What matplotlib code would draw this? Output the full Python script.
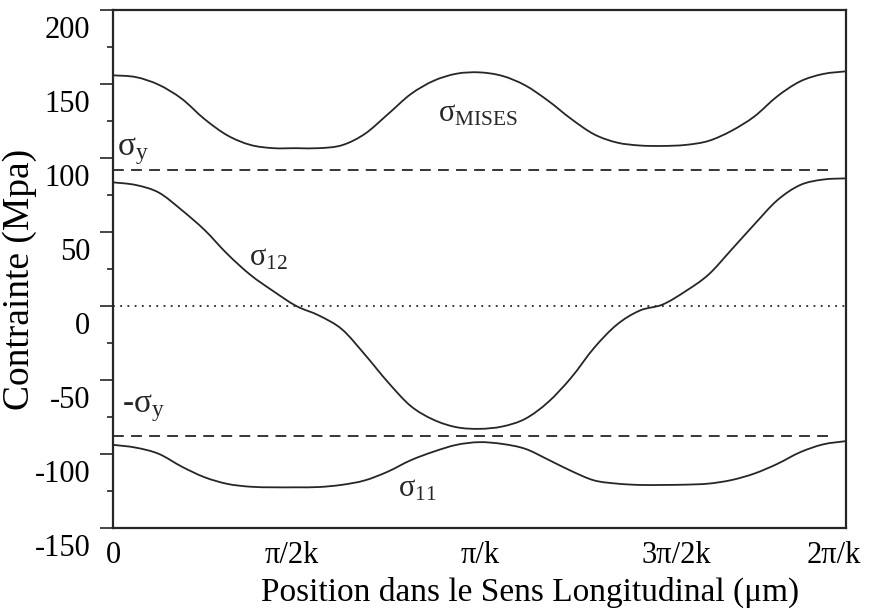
import numpy as np
import matplotlib
matplotlib.use('Agg')
import matplotlib.pyplot as plt
from matplotlib.path import Path
from matplotlib.patches import PathPatch
from matplotlib.transforms import ScaledTranslation

plt.rcParams['font.family'] = ['Liberation Serif', 'DejaVu Serif']
plt.rcParams['mathtext.fontset'] = 'custom'
plt.rcParams['mathtext.rm'] = 'Liberation Serif'
plt.rcParams['mathtext.it'] = 'Liberation Serif'

# position along the period, in units of pi/k (0 .. 2), read every 1/16
x_pos = np.linspace(0, 2, 33)

# von Mises stress (MPa)
s_mises = [155.8, 154.6, 149.4, 140.0, 126.2, 115.2, 108.8, 106.6, 106.6,
           106.6, 108.6, 116.3, 129.5, 143.1, 152.1, 156.9, 157.8,
           155.4, 149.0, 138.6, 126.4, 116.0, 110.4, 108.4, 108.1,
           108.8, 111.5, 118.3, 128.0, 141.6, 151.7, 156.7, 158.5]

# shear stress sigma_12 (MPa)
s_12 = [83.5, 81.7, 76.6, 64.8, 51.3, 35.0, 21.0, 10.0, 0.0,
        -6.5, -15.8, -32.9, -51.4, -67.6, -76.9, -81.9, -83.0,
        -81.4, -76.2, -64.9, -48.5, -28.4, -12.6, -3.1, 1.0,
        10.0, 21.2, 38.0, 55.1, 71.4, 81.7, 85.4, 86.2]

# normal stress sigma_11 (MPa)
s_11 = [-93.8, -95.7, -99.9, -108.5, -115.7, -120.2, -122.1, -122.5, -122.5,
        -122.3, -120.8, -117.8, -111.9, -104.2, -98.4, -93.8, -92.0,
        -93.2, -96.5, -103.8, -111.4, -117.8, -120.0, -120.9, -120.9,
        -120.7, -120.0, -117.6, -113.2, -106.7, -98.8, -93.5, -91.3]

sigma_y_top = 92
sigma_y_bot = -88

x_ticks = [0, 0.5, 1, 1.5, 2]
x_labels = ['0', 'π/2k', 'π/k', '3π/2k', '2π/k']
y_ticks = [-150, -100, -50, 0, 50, 100, 150, 200]

col = '#262626'


# smooth curve through the read points (Catmull-Rom as bezier segments)
def smooth_path(x, y):
    p = np.column_stack([x, y])
    p = np.vstack([p[0], p, p[-1]])
    verts = [p[1]]
    codes = [Path.MOVETO]
    for i in range(1, len(p) - 2):
        c1 = p[i] + (p[i + 1] - p[i - 1]) / 6
        c2 = p[i + 1] - (p[i + 2] - p[i]) / 6
        verts += [c1, c2, p[i + 1]]
        codes += [Path.CURVE4] * 3
    return Path(verts, codes)


fig = plt.figure(figsize=(8.69, 6.11), dpi=100)
ax = fig.add_axes([0.130, 0.1358, 0.8435, 0.848])

for s in [s_mises, s_12, s_11]:
    ax.add_patch(PathPatch(smooth_path(x_pos, s), fill=False, edgecolor=col, lw=1.3))

ax.plot([0, 1.97], [sigma_y_top, sigma_y_top], color=col, lw=1.3, ls=(0, (6, 4)))
ax.plot([0, 1.97], [sigma_y_bot, sigma_y_bot], color=col, lw=1.3, ls=(0, (6, 4)))
ax.axhline(0, color=col, lw=1.3, ls=(0, (1, 3)))

ax.set_xlim(0, 2)
ax.set_ylim(-150, 200)

ax.set_xticks(x_ticks)
ax.set_xticklabels(x_labels, fontsize=22)
ax.tick_params(axis='x', length=0, pad=9)
# labels in the original are a little off their ticks
x_shift = [0, -4, 1, 14, -12]
for lab, dx in zip(ax.get_xticklabels(), x_shift):
    lab.set_transform(lab.get_transform() + ScaledTranslation(dx / 100, 0, fig.dpi_scale_trans))

ax.set_yticks(y_ticks)
ax.set_yticklabels([str(v) for v in y_ticks], fontsize=22)
ax.set_yticks(np.arange(-125, 200, 50), minor=True)
ax.tick_params(axis='y', which='major', length=9.4, width=1.2, color=col, pad=7)
ax.tick_params(axis='y', which='minor', length=4.3, width=1.2, color=col)
for lab in ax.get_yticklabels():
    lab.set_transform(lab.get_transform() + ScaledTranslation(0, -0.17, fig.dpi_scale_trans))

for sp in ax.spines.values():
    sp.set_linewidth(1.6)
    sp.set_color(col)

# curve labels
ax.text(0.011, 101.8, 'σ$_{\\rm y}$', fontsize=24, color=col)
ax.text(0.025, -71.5, '-σ$_{\\rm y}$', fontsize=24, color=col)
ax.text(0.887, 124.8, 'σ$_{\\rm MISES}$', fontsize=22, color=col)
ax.text(0.371, 27.4, 'σ$_{\\rm 12}$', fontsize=22, color=col)
ax.text(0.778, -129, 'σ$_{\\rm 11}$', fontsize=22, color=col)

ax.set_xlabel('Position dans le Sens Longitudinal (μm)', fontsize=24)
ax.xaxis.set_label_coords(0.569, -0.095)
ax.set_ylabel('Contrainte (Mpa)', fontsize=27)
ax.yaxis.set_label_coords(-0.104, 0.479)

fig.savefig('out.png', dpi=100)
